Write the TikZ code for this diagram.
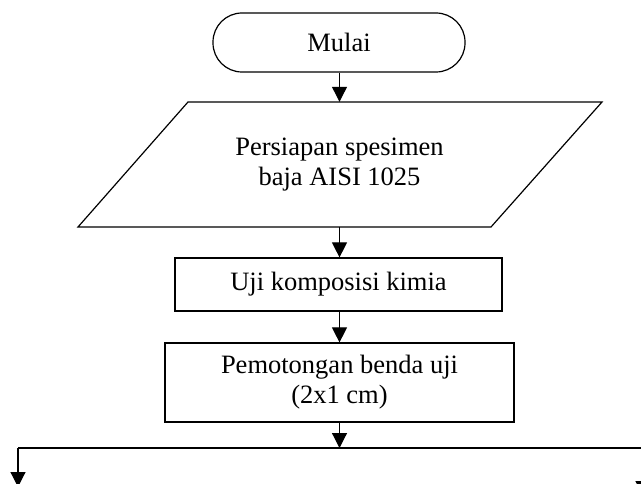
\documentclass[tikz,border=0pt]{standalone}
\usepackage{fontspec}
\setmainfont{Liberation Serif}
\usetikzlibrary{arrows.meta}
\tikzset{
  flow/.style={line width=1.2pt, -{Triangle[length=15pt,width=15pt]}},
  plain/.style={line width=1.2pt},
  box/.style={draw, line width=1.2pt, inner sep=0pt, align=center, font=\fontsize{26.5}{30}\selectfont},
  txt/.style={inner sep=0pt, align=center, font=\fontsize{26.5}{30}\selectfont},
}
\begin{document}
\begin{tikzpicture}[x=1pt,y=-1pt]
\useasboundingbox (0,0) rectangle (641,484);
% start terminal
\node[box, rounded corners=29pt, minimum width=252pt, minimum height=59pt] (start) at (339,42.5) {Mulai};
% parallelogram
\draw[plain, line join=miter] (188,102) -- (602,102) -- (491,227) -- (78,227) -- cycle;
\node[txt, minimum height=125pt, minimum width=200pt] (prep) at (339.5,164.5) {Persiapan spesimen\\baja AISI 1025};
% process boxes
\node[box, minimum width=327pt, minimum height=53pt] (uji) at (338.5,284.5) {Uji komposisi kimia};
\node[box, minimum width=349pt, minimum height=79pt] (pot) at (339.5,382.5) {Pemotongan benda uji\\(2x1 cm)};
% split coordinates
\coordinate (split) at (339.5,448);
\coordinate (lt) at (18,448);
\coordinate (rt) at (643,448);
\coordinate (lb) at (18,487);
\coordinate (rb) at (643,496);
% connectors
\draw[flow] (start.south -| prep.north) -- (prep.north);
\draw[flow] (prep.south) -- (prep.south |- uji.north);
\draw[flow] (uji.south -| prep.south) -- (prep.south |- pot.north);
\draw[flow] (pot.south) -- (split);
\draw[plain] (lt) -- (rt);
\draw[flow] (lt) -- (lb);
\draw[flow] (rt) -- (rb);
\end{tikzpicture}
\end{document}
